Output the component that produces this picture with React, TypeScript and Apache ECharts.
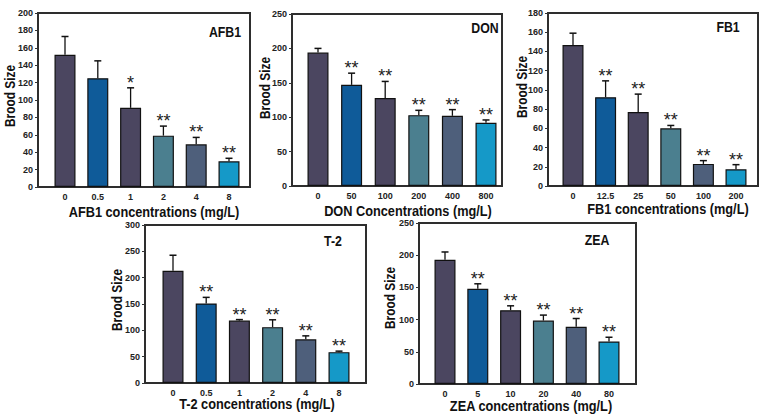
import React, { useEffect, useRef } from "react";
import * as echarts from "echarts";

const FONT = '"Liberation Sans", Arial, sans-serif';

// ---- data ----
const AFB1_CATEGORIES = ["0", "0.5", "1", "2", "4", "8"];
const AFB1_VALUES = [152, 125, 91, 59, 49, 29.5];
const AFB1_ERRORS = [21, 20, 23, 11, 8, 3.5];
const AFB1_STARS = ["", "", "*", "**", "**", "**"];
const AFB1_TICKS = { max: 200, step: 20 };

const DON_CATEGORIES = ["0", "50", "100", "200", "400", "800"];
const DON_VALUES = [194, 147, 128, 103, 102, 92];
const DON_ERRORS = [6, 17, 24, 7, 9, 4];
const DON_STARS = ["", "**", "**", "**", "**", "**"];
const DON_TICKS = { max: 250, step: 50 };

const FB1_CATEGORIES = ["0", "12.5", "25", "50", "100", "200"];
const FB1_VALUES = [146.6, 92.4, 77, 60, 23, 17.4];
const FB1_ERRORS = [12.4, 17, 18.6, 3, 3.4, 4.8];
const FB1_STARS = ["", "**", "**", "**", "**", "**"];
const FB1_TICKS = { max: 180, step: 20 };

const T2_CATEGORIES = ["0", "0.5", "1", "2", "4", "8"];
const T2_VALUES = [213, 151, 118.5, 106, 83, 58.6];
const T2_ERRORS = [29.6, 11.6, 1.9, 14, 6.5, 1.9];
const T2_STARS = ["", "**", "**", "**", "**", "**"];
const T2_TICKS = { max: 300, step: 50 };

const ZEA_CATEGORIES = ["0", "5", "10", "20", "40", "80"];
const ZEA_VALUES = [193, 148, 114.6, 98.5, 89, 66];
const ZEA_ERRORS = [12, 7.6, 6.8, 8.5, 12.7, 6.6];
const ZEA_STARS = ["", "**", "**", "**", "**", "**"];
const ZEA_TICKS = { max: 250, step: 50 };

const PANEL_NAMES = ["AFB1", "DON", "FB1", "T-2", "ZEA"];
const X_TITLES = [
  "AFB1 concentrations (mg/L)",
  "DON Concentrations (mg/L)",
  "FB1 concentrations (mg/L)",
  "T-2 concentrations (mg/L)",
  "ZEA concentrations (mg/L)",
];
const Y_TITLE = "Brood Size";

const PANELS = [
  { cats: AFB1_CATEGORIES, values: AFB1_VALUES, errors: AFB1_ERRORS, stars: AFB1_STARS, ticks: AFB1_TICKS },
  { cats: DON_CATEGORIES, values: DON_VALUES, errors: DON_ERRORS, stars: DON_STARS, ticks: DON_TICKS },
  { cats: FB1_CATEGORIES, values: FB1_VALUES, errors: FB1_ERRORS, stars: FB1_STARS, ticks: FB1_TICKS },
  { cats: T2_CATEGORIES, values: T2_VALUES, errors: T2_ERRORS, stars: T2_STARS, ticks: T2_TICKS },
  { cats: ZEA_CATEGORIES, values: ZEA_VALUES, errors: ZEA_ERRORS, stars: ZEA_STARS, ticks: ZEA_TICKS },
];

// ---- layout / style ----
const BAR_COLORS = ["#4b4660", "#0f5b99", "#4b4660", "#4b7f8f", "#4e5f7b", "#1599c8"];
const LAYOUT = [
  { box: [38, 13, 250, 187], c: [65, 229], title: [225, 32], xt: [154, 212], yt: [10, 96] },
  { box: [292, 14, 502, 186], c: [318, 486], title: [485, 28], xt: [408, 211], yt: [265, 88] },
  { box: [548, 13, 758, 186], c: [573, 736], title: [728, 27], xt: [668, 209], yt: [522, 87] },
  { box: [145, 225, 366, 383], c: [173, 339], title: [333, 241], xt: [257, 404], yt: [117, 300] },
  { box: [419, 223, 636, 384], c: [445, 609], title: [597, 240], xt: [531, 406], yt: [390, 298] },
];

function buildOption() {
  const grid: any[] = [];
  const xAxis: any[] = [];
  const yAxis: any[] = [];
  const series: any[] = [];
  const graphic: any[] = [];

  PANELS.forEach((p, k) => {
    const L = LAYOUT[k];
    const [bl, bt, br, bb] = L.box;
    const s = (L.c[1] - L.c[0]) / (p.cats.length - 1);
    const gl = L.c[0] - s / 2;
    const g0 = 2 * k;
    const g1 = 2 * k + 1;
    grid.push({
      left: bl, top: bt, width: br - bl, height: bb - bt,
      show: true, borderColor: "#2e2e2e", borderWidth: 2, backgroundColor: "transparent",
    });
    grid.push({ left: gl, top: bt, width: s * p.cats.length, height: bb - bt });

    xAxis.push({ gridIndex: g0, type: "value", show: false, min: 0, max: 1 });
    xAxis.push({
      gridIndex: g1, type: "category", data: p.cats,
      axisLine: { show: false }, axisTick: { show: false },
      axisLabel: { fontSize: 9, fontWeight: "bold", color: "#222", margin: 5, fontFamily: FONT, interval: 0 },
    });
    yAxis.push({
      gridIndex: g0, type: "value", min: 0, max: p.ticks.max, interval: p.ticks.step,
      axisLine: { show: false },
      axisTick: { show: true, length: 3, lineStyle: { color: "#333" } },
      splitLine: { show: false },
      axisLabel: { fontSize: 9, fontWeight: "bold", color: "#222", margin: 5, fontFamily: FONT },
    });
    yAxis.push({ gridIndex: g1, type: "value", min: 0, max: p.ticks.max, show: false, splitLine: { show: false } });

    series.push({
      type: "bar", xAxisIndex: g1, yAxisIndex: g1, barWidth: 21,
      data: p.values.map((v, i) => ({ value: v, itemStyle: { color: BAR_COLORS[i] } })),
      itemStyle: { borderColor: "#111", borderWidth: 1.2 },
    });
    series.push({
      type: "custom", xAxisIndex: g1, yAxisIndex: g1, z: 5, clip: false,
      data: p.values.map((v, i) => [i, v, p.errors[i]]),
      renderItem: (params: any, api: any) => {
        const i = api.value(0);
        const v = api.value(1);
        const e = api.value(2);
        const base = api.coord([i, v]);
        const top = api.coord([i, v + e]);
        const star = p.stars[params.dataIndex];
        const children: any[] = [
          { type: "line", shape: { x1: base[0], y1: base[1], x2: base[0], y2: top[1] }, style: { stroke: "#111", lineWidth: 1.3 } },
          { type: "line", shape: { x1: base[0] - 3.5, y1: top[1], x2: base[0] + 3.5, y2: top[1] }, style: { stroke: "#111", lineWidth: 1.5 } },
        ];
        if (star) {
          children.push({
            type: "text",
            style: { text: star, x: base[0], y: top[1] + 4, align: "center", verticalAlign: "bottom", font: `18px ${FONT}`, fill: "#222" },
          });
        }
        return { type: "group", children };
      },
    });

    graphic.push({
      type: "text", x: L.title[0], y: L.title[1], scaleX: 0.88,
      style: { text: PANEL_NAMES[k], align: "center", verticalAlign: "middle", font: `bold 14px ${FONT}`, fill: "#111" },
    });
    graphic.push({
      type: "text", x: L.xt[0], y: L.xt[1], scaleX: 0.85,
      style: { text: X_TITLES[k], align: "center", verticalAlign: "middle", font: `bold 15px ${FONT}`, fill: "#111" },
    });
    graphic.push({
      type: "text", x: L.yt[0], y: L.yt[1], rotation: Math.PI / 2, scaleX: 0.85,
      style: { text: Y_TITLE, align: "center", verticalAlign: "middle", font: `bold 14px ${FONT}`, fill: "#111" },
    });
  });

  return { animation: false, backgroundColor: "#fff", grid, xAxis, yAxis, series, graphic };
}

export default function App() {
  const ref = useRef<HTMLDivElement>(null);
  useEffect(() => {
    if (!ref.current) return;
    const chart = echarts.init(ref.current, undefined, { renderer: "svg" });
    chart.setOption(buildOption() as any);
    return () => chart.dispose();
  }, []);
  return (
    <div
      ref={ref}
      style={{ position: "fixed", left: 0, top: 0, width: 768, height: 420, background: "#fff" }}
    />
  );
}
